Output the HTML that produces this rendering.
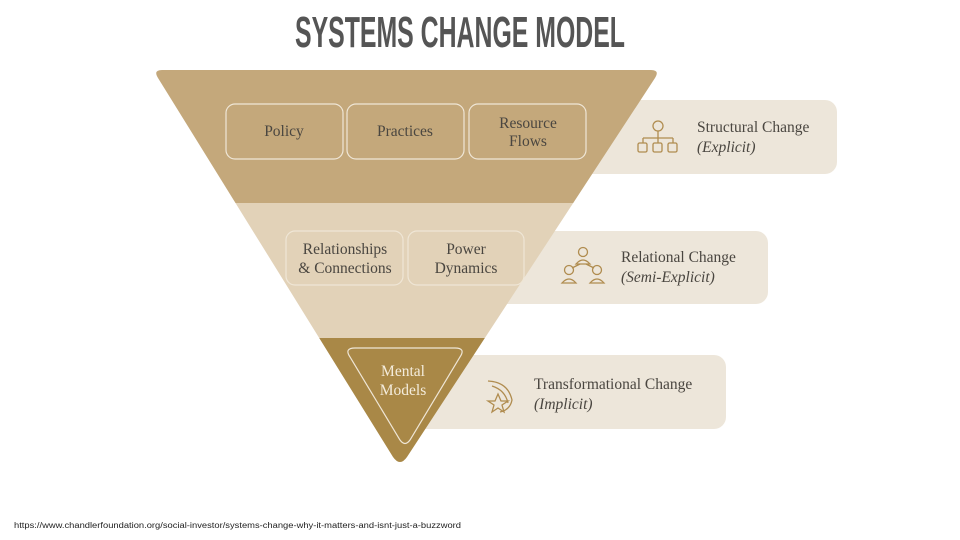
<!DOCTYPE html>
<html><head><meta charset="utf-8"><style>
html,body{margin:0;padding:0;background:#fff;}
svg{display:block;}
.s{font-family:"Liberation Serif",serif;fill:#4a4640;}
</style></head><body>
<svg width="960" height="540" viewBox="0 0 960 540" xmlns="http://www.w3.org/2000/svg">
<text x="295" y="47" textLength="330" lengthAdjust="spacingAndGlyphs" font-family="'Liberation Sans Narrow','Liberation Sans',sans-serif" font-weight="bold" font-size="44" fill="#555">SYSTEMS CHANGE MODEL</text>

<rect x="560" y="100" width="277" height="74" rx="12" fill="#ede6da"/>
<rect x="480" y="231" width="288" height="73" rx="12" fill="#ede6da"/>
<rect x="400" y="355" width="326" height="74" rx="12" fill="#ede6da"/>

<clipPath id="tri"><path d="M162,70 L651,70 Q660,70 655,78 L407,457 Q400,467 393,457 L158,78 Q153,70 162,70 Z"/></clipPath>
<g clip-path="url(#tri)">
<rect x="140" y="60" width="540" height="143" fill="#c4a87b"/>
<rect x="140" y="203" width="540" height="135" fill="#e2d2b8"/>
<rect x="140" y="338" width="540" height="140" fill="#a98847"/>
</g>

<g fill="none" stroke="#efe6d6" stroke-width="1.2">
<rect x="226" y="104" width="117" height="55" rx="9"/>
<rect x="347" y="104" width="117" height="55" rx="9"/>
<rect x="469" y="104" width="117" height="55" rx="9"/>
<rect x="286" y="231" width="117" height="54" rx="9"/>
<rect x="408" y="231" width="116" height="54" rx="9"/>
<path d="M355,348 L455,348 Q466,348 460,357 L410,440 Q405,447 400,440 L350,357 Q344,348 355,348 Z"/>
</g>

<g class="s" font-size="15.5" text-anchor="middle">
<text x="284" y="136">Policy</text>
<text x="405" y="136">Practices</text>
<text x="528" y="128">Resource</text>
<text x="528" y="146">Flows</text>
<text x="345" y="254">Relationships</text>
<text x="345" y="273">&amp; Connections</text>
<text x="466" y="254">Power</text>
<text x="466" y="273">Dynamics</text>
<text x="403" y="376" fill="#f4ecdc">Mental</text>
<text x="403" y="395" fill="#f4ecdc">Models</text>
</g>

<g class="s" font-size="15.5">
<text x="697" y="132">Structural Change</text>
<text x="697" y="152" font-style="italic">(Explicit)</text>
<text x="621" y="262">Relational Change</text>
<text x="621" y="282" font-style="italic">(Semi-Explicit)</text>
<text x="534" y="389">Transformational Change</text>
<text x="534" y="409" font-style="italic">(Implicit)</text>
</g>

<g fill="none" stroke="#b08c4f" stroke-width="1.3">
<circle cx="658" cy="126" r="5"/>
<path d="M658,131 V138 M643,138 H673 M643,138 V143 M658,138 V143 M673,138 V143"/>
<rect x="638" y="143" width="9" height="9" rx="1.5"/>
<rect x="653" y="143" width="9" height="9" rx="1.5"/>
<rect x="668" y="143" width="9" height="9" rx="1.5"/>

<circle cx="583" cy="252" r="4.5"/><path d="M576,264 Q583,256 590,264 Z"/>
<circle cx="569" cy="270" r="4.5"/><path d="M562,283 Q569,275 576,283 Z"/>
<circle cx="597" cy="270" r="4.5"/><path d="M590,283 Q597,275 604,283 Z"/>
<path d="M580,264 L572,268 M586,264 L594,268"/>

<path d="M488,381 Q508,382 512,400 Q510,410 500,412"/>
<path d="M492,386 Q505,390 508,403"/>
<path d="M498,394 L501,401 L508,401 L502,405 L504,412 L498,408 L492,412 L494,405 L488,401 L495,401 Z"/>
</g>

<text x="14" y="528" textLength="447" lengthAdjust="spacingAndGlyphs" font-family="'Liberation Sans',sans-serif" font-size="8" fill="#222">https://www.chandlerfoundation.org/social-investor/systems-change-why-it-matters-and-isnt-just-a-buzzword</text>
</svg>
</body></html>
